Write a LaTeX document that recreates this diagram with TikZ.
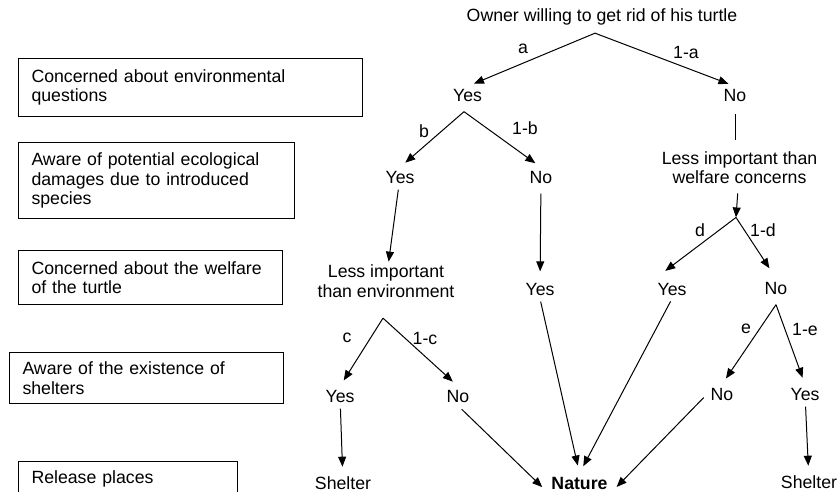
\documentclass[tikz,border=0pt]{standalone}
\usepackage{fontspec}
\setmainfont{Liberation Sans}
\usetikzlibrary{arrows.meta,positioning}

\begin{document}
\begin{tikzpicture}[x=1pt, y=-1pt, line width=1pt,
  font=\fontsize{17.7}{19.5}\selectfont,
  >={Triangle[length=10pt,width=8pt]},
  factor/.style={draw, align=left, inner xsep=13pt, inner ysep=0pt, anchor=north west},
  answer/.style={inner sep=3pt, anchor=base},
  question/.style={inner sep=3pt, align=center},
  prob/.style={inner sep=1pt},
  branch/.style={->, shorten >=7pt}]
\useasboundingbox (0,0) rectangle (837,492);
\clip (0,0) rectangle (837,492);
\node[factor, text width=318pt, minimum height=58pt] (envq) at (18,58) {Concerned about environmental\\questions};
\node[factor, text width=250pt, minimum height=76pt] (aware) at (18,142) {Aware of potential ecological\\damages due to introduced\\species};
\node[factor, text width=238pt, minimum height=54pt] (welfq) at (18,250) {Concerned about the welfare\\of the turtle};
\node[factor, text width=248pt, minimum height=51pt] (shelq) at (9,352) {Aware of the existence of\\shelters};
\node[factor, text width=193pt, minimum height=35pt] (place) at (18,461) {Release places};
\node[answer] (owner) at (602,22) {Owner willing to get rid of his turtle};
\node[answer] (yesA) at (467.5,102) {Yes};
\node[answer] (noA) at (735,102) {No};
\node[answer] (yesB) at (400,183) {Yes};
\node[answer] (noB) at (541,183) {No};
\node[question] (welf) at (739.5,167.7) {Less important than\\welfare concerns};
\node[question] (envi) at (386,281.4) {Less important\\than environment};
\node[answer] (yesC) at (540,295) {Yes};
\node[answer] (yesD) at (672,295) {Yes};
\node[answer] (noD) at (776,294) {No};
\node[answer] (yesE) at (340,402) {Yes};
\node[answer] (noE) at (458,402) {No};
\node[answer] (noF) at (722,400) {No};
\node[answer] (yesF) at (805,400) {Yes};
\node[answer] (shelA) at (343,489) {Shelter};
\node[answer] (nature) at (579.5,489) {\bfseries Nature};
\node[answer] (shelB) at (809,488) {Shelter};
\node[prob] (la) at (523,49) {a};
\node[prob] (l1a) at (686,52) {1-a};
\node[prob] (lb) at (424,131) {b};
\node[prob] (l1b) at (525,128) {1-b};
\node[prob] (lc) at (347,338) {c};
\node[prob] (l1c) at (425,338) {1-c};
\node[prob] (ld) at (700,230) {d};
\node[prob] (l1d) at (763,230) {1-d};
\node[prob] (le) at (746,329) {e};
\node[prob] (l1e) at (805,329) {1-e};
\coordinate[below=4pt of owner, xshift=-7pt] (apA);
\coordinate[below=6pt of yesA, xshift=-3.5pt] (apB);
\coordinate[below=17pt of envi, xshift=-3pt] (apC);
\coordinate[below=30pt of welf, xshift=-3.5pt] (apD);
\coordinate[below=7pt of noD] (apE);
\draw[branch] (apA) -- (yesA.north);
\draw[branch] (apA) -- (noA.north);
\draw[branch] (apB) -- (yesB.north);
\draw[branch] (apB) -- (noB.north);
\draw[->, shorten <=3pt] (yesB) -- (envi);
\draw[->, shorten <=7pt, shorten >=8pt] (noB) -- (yesC);
\draw[shorten <=8pt, shorten >=8pt] (noA) -- (noA |- welf.north);
\draw[->, shorten <=6pt] (welf) -- (apD);
\draw[branch, shorten >=14pt] (apD) -- (yesD.north west);
\draw[branch, shorten >=12pt] (apD) -- (noD.north);
\draw[branch] (apC) -- (yesE.north);
\draw[branch] (apC) -- (noE.north);
\draw[branch] (apE) -- (noF.north);
\draw[branch] (apE) -- (yesF.north);
\draw[->, shorten <=3pt, shorten >=6pt] (yesE) -- (shelA);
\draw[->, shorten <=3pt, shorten >=6pt] (yesF) -- (shelB);
\draw[->, shorten <=5pt, shorten >=8pt] (noE.south) -- (nature.south west);
\draw[->, shorten <=3pt, shorten >=8pt] (yesC.south) -- (nature.north);
\draw[->, shorten <=3pt, shorten >=8pt] (yesD.south) -- (nature.north);
\draw[->, shorten <=5pt, shorten >=8pt] (noF.west) -- (nature.south east);
\end{tikzpicture}
\end{document}
